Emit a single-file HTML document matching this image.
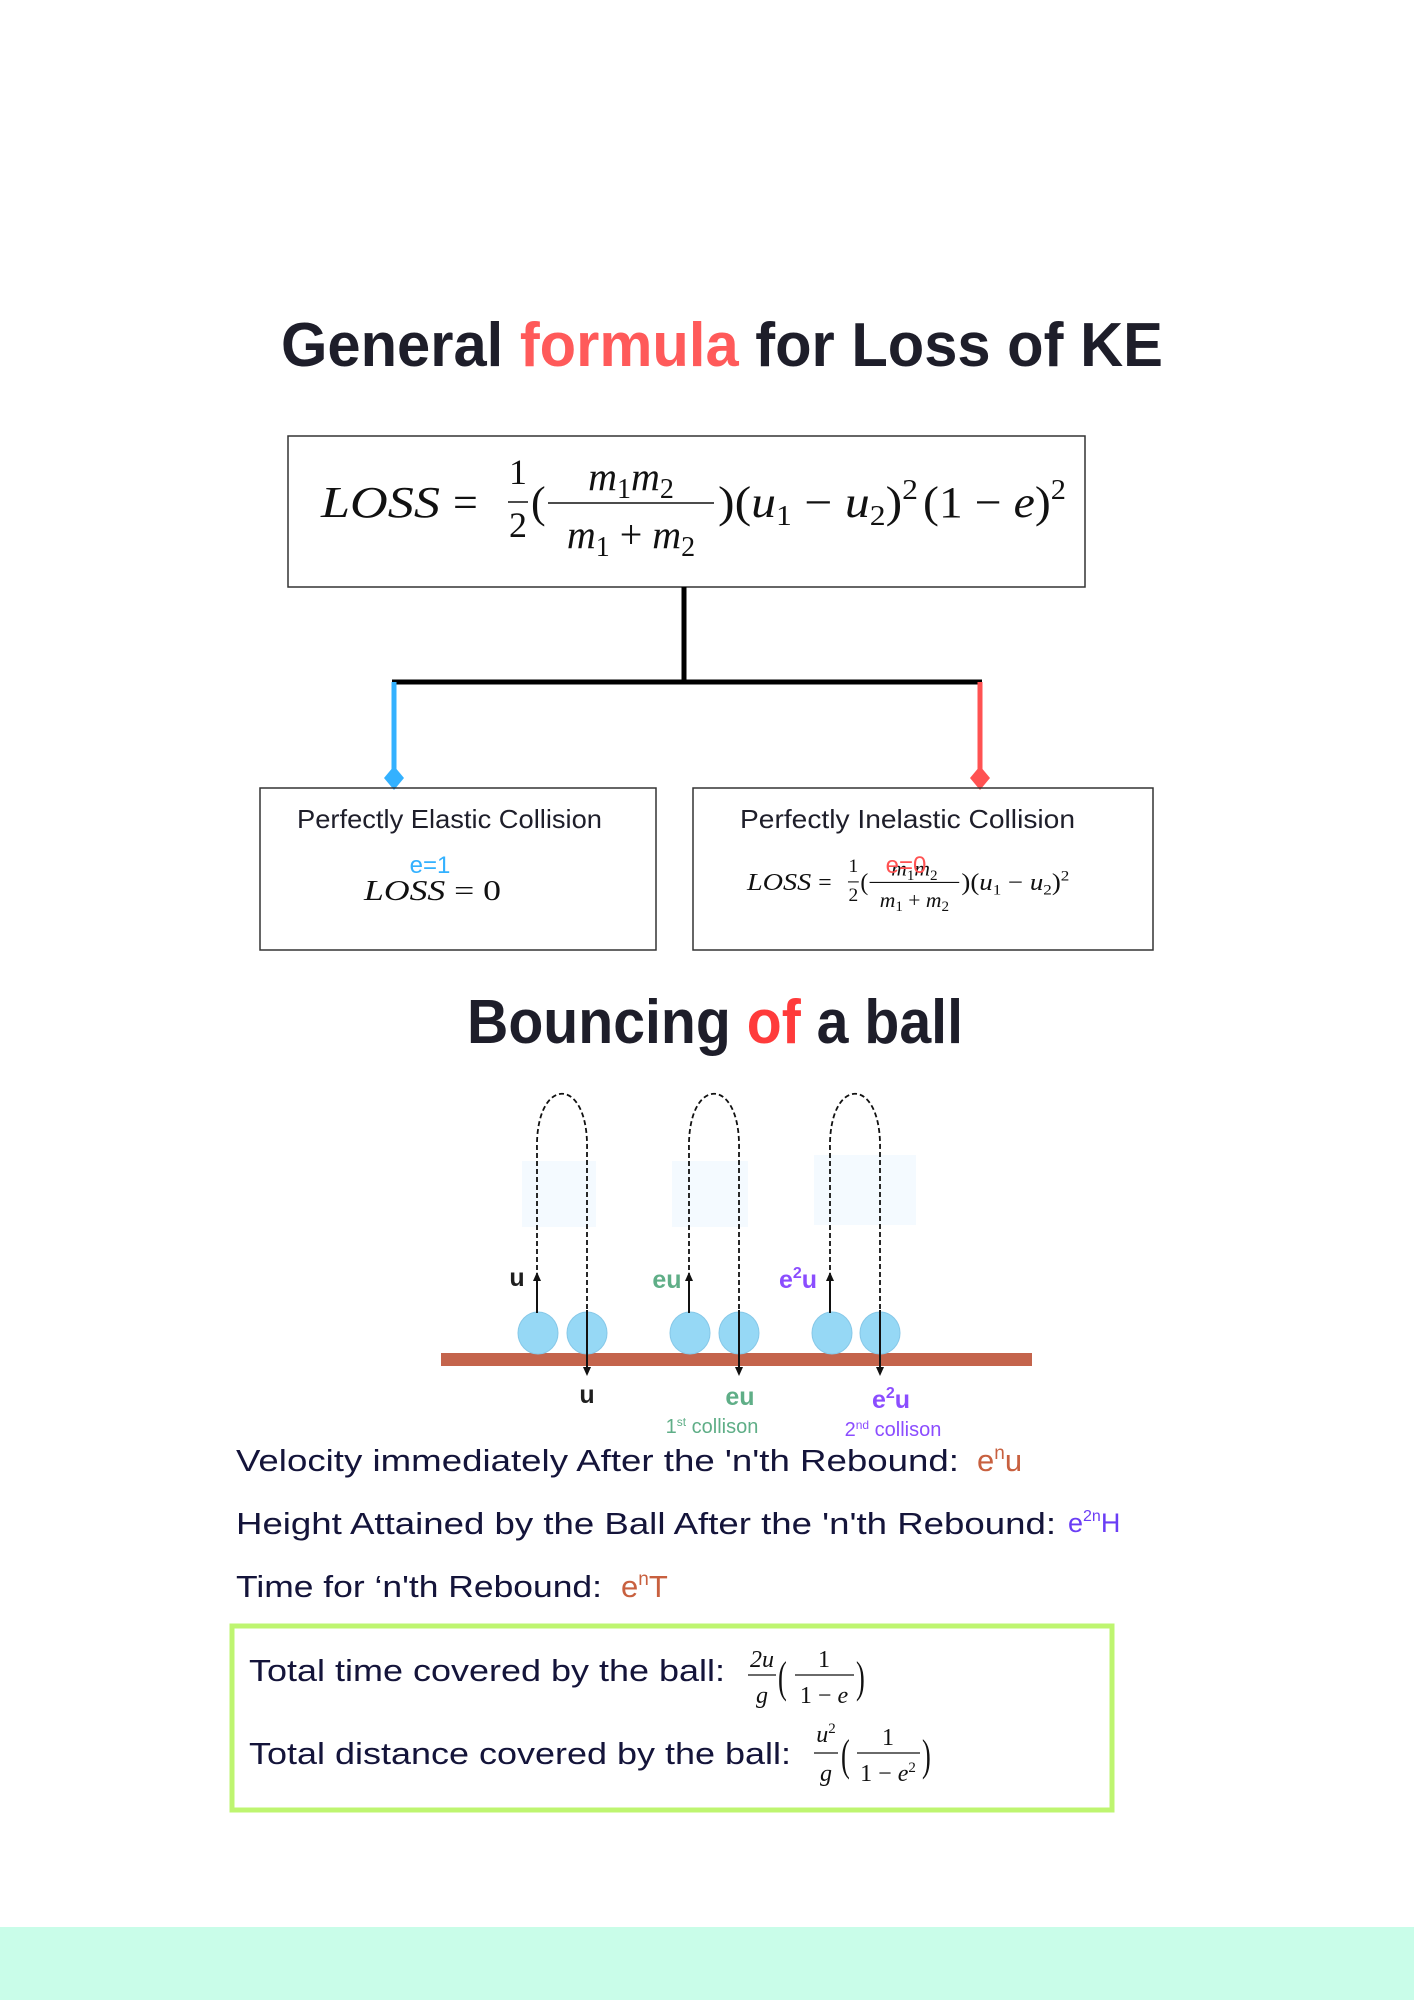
<!DOCTYPE html>
<html><head><meta charset="utf-8"><style>
html,body{margin:0;padding:0;background:#fff;}
svg{display:block;}
.h{font-family:"Liberation Sans",sans-serif;}
.m{font-family:"Liberation Serif",serif;font-style:italic;}
.r{font-family:"Liberation Serif",serif;}
.s{font-style:normal;}
</style></head><body>
<svg width="1414" height="2000" viewBox="0 0 1414 2000" xmlns="http://www.w3.org/2000/svg">
<rect x="0" y="1927" width="1414" height="73" fill="#c9fde9"/>

<text class="h" x="281" y="366" font-size="62" font-weight="bold" fill="#1e1e2a" textLength="882" lengthAdjust="spacingAndGlyphs">General <tspan fill="#ff5a5a">formula</tspan> for Loss of KE</text>

<rect x="288" y="436" width="797" height="151" fill="none" stroke="#333" stroke-width="1.5"/>
<g transform="translate(321,517)" fill="#111">
  <text class="m" x="0" y="0" font-size="44" textLength="119" lengthAdjust="spacingAndGlyphs">LOSS</text>
  <text class="r" x="132" y="0" font-size="44">=</text>
  <text class="r" x="197" y="-33" font-size="36" text-anchor="middle">1</text>
  <line x1="187" y1="-15" x2="207" y2="-15" stroke="#111" stroke-width="1.5"/>
  <text class="r" x="197" y="20" font-size="36" text-anchor="middle">2</text>
  <text class="r" x="210" y="0" font-size="44">(</text>
  <text class="m" x="310" y="-27" font-size="40" text-anchor="middle">m<tspan class="s" font-size="28" dy="8">1</tspan><tspan dy="-8">m</tspan><tspan class="s" font-size="28" dy="8">2</tspan></text>
  <line x1="227" y1="-14" x2="393" y2="-14" stroke="#111" stroke-width="1.5"/>
  <text class="m" x="310" y="31" font-size="40" text-anchor="middle">m<tspan class="s" font-size="28" dy="8">1</tspan><tspan class="s" dy="-8"> + </tspan><tspan>m</tspan><tspan class="s" font-size="28" dy="8">2</tspan></text>
  <text class="m" x="397" y="0" font-size="44" textLength="200" lengthAdjust="spacingAndGlyphs"><tspan class="s">)(</tspan>u<tspan class="s" font-size="28" dy="8">1</tspan><tspan class="s" dy="-8"> − </tspan>u<tspan class="s" font-size="28" dy="8">2</tspan><tspan class="s" dy="-8">)</tspan><tspan class="s" font-size="28" dy="-18">2</tspan></text>
  <text class="m" x="602" y="0" font-size="44" textLength="143" lengthAdjust="spacingAndGlyphs"><tspan class="s">(1 − </tspan>e<tspan class="s">)</tspan><tspan class="s" font-size="28" dy="-18">2</tspan></text>
</g>

<line x1="684" y1="587" x2="684" y2="684" stroke="#000" stroke-width="5"/>
<line x1="392" y1="682" x2="982" y2="682" stroke="#000" stroke-width="5"/>
<line x1="394" y1="682" x2="394" y2="776" stroke="#33b1ff" stroke-width="5"/>
<polygon points="394,766 404,778 394,790 384,778" fill="#33b1ff"/>
<line x1="980" y1="682" x2="980" y2="776" stroke="#ff5252" stroke-width="5"/>
<polygon points="980,766 990,778 980,790 970,778" fill="#ff5252"/>

<rect x="260" y="788" width="396" height="162" fill="none" stroke="#333" stroke-width="1.5"/>
<rect x="693" y="788" width="460" height="162" fill="none" stroke="#333" stroke-width="1.5"/>
<text class="h" x="297" y="828" font-size="26" fill="#1e1e2a" textLength="305" lengthAdjust="spacingAndGlyphs">Perfectly Elastic Collision</text>
<text class="h" x="740" y="828" font-size="26" fill="#1e1e2a" textLength="335" lengthAdjust="spacingAndGlyphs">Perfectly  Inelastic Collision</text>
<text class="h" x="430" y="873" font-size="24" fill="#33b1ff" text-anchor="middle">e=1</text>
<text class="m" x="364" y="900" font-size="28" fill="#111" textLength="137" lengthAdjust="spacingAndGlyphs">LOSS <tspan class="s">= 0</tspan></text>
<g transform="translate(747,890) scale(0.54)" fill="#111">
  <text class="m" x="0" y="0" font-size="44" textLength="119" lengthAdjust="spacingAndGlyphs">LOSS</text>
  <text class="r" x="132" y="0" font-size="44">=</text>
  <text class="r" x="197" y="-33" font-size="36" text-anchor="middle">1</text>
  <line x1="187" y1="-15" x2="207" y2="-15" stroke="#111" stroke-width="2"/>
  <text class="r" x="197" y="20" font-size="36" text-anchor="middle">2</text>
  <text class="r" x="210" y="0" font-size="44">(</text>
  <text class="m" x="310" y="-27" font-size="40" text-anchor="middle">m<tspan class="s" font-size="28" dy="8">1</tspan><tspan dy="-8">m</tspan><tspan class="s" font-size="28" dy="8">2</tspan></text>
  <line x1="227" y1="-14" x2="393" y2="-14" stroke="#111" stroke-width="2"/>
  <text class="m" x="310" y="31" font-size="40" text-anchor="middle">m<tspan class="s" font-size="28" dy="8">1</tspan><tspan class="s" dy="-8"> + </tspan><tspan>m</tspan><tspan class="s" font-size="28" dy="8">2</tspan></text>
  <text class="m" x="397" y="0" font-size="44" textLength="200" lengthAdjust="spacingAndGlyphs"><tspan class="s">)(</tspan>u<tspan class="s" font-size="28" dy="8">1</tspan><tspan class="s" dy="-8"> − </tspan>u<tspan class="s" font-size="28" dy="8">2</tspan><tspan class="s" dy="-8">)</tspan><tspan class="s" font-size="28" dy="-18">2</tspan></text>
</g>
<text class="h" x="906" y="873" font-size="24" fill="#ff5252" text-anchor="middle">e=0</text>

<text class="h" x="467" y="1043" font-size="62" font-weight="bold" fill="#1e1e2a" textLength="496" lengthAdjust="spacingAndGlyphs">Bouncing <tspan fill="#ff3b3b">of</tspan> a ball</text>

<rect x="522" y="1161" width="74" height="66" fill="#f4faff"/>
<rect x="672" y="1161" width="76" height="66" fill="#f4faff"/>
<rect x="814" y="1155" width="102" height="70" fill="#f4faff"/>

<rect x="441" y="1353" width="591" height="13" fill="#c4644c"/>

<g fill="#96d8f5" stroke="#86c8e8" stroke-width="1">
<ellipse cx="538" cy="1333" rx="20" ry="21"/>
<ellipse cx="587" cy="1333" rx="20" ry="21"/>
<ellipse cx="690" cy="1333" rx="20" ry="21"/>
<ellipse cx="739" cy="1333" rx="20" ry="21"/>
<ellipse cx="832" cy="1333" rx="20" ry="21"/>
<ellipse cx="880" cy="1333" rx="20" ry="21"/>
</g>

<g fill="none" stroke="#111" stroke-width="1.8" stroke-dasharray="5,3">
<path d="M537 1278 L537 1150 C535 1075 589 1075 587 1150 L587 1310"/>
<path d="M689 1278 L689 1150 C687 1075 741 1075 739 1150 L739 1310"/>
<path d="M830 1278 L830 1150 C828 1075 882 1075 880 1150 L880 1310"/>
</g>
<g stroke="#111" stroke-width="2">
<line x1="537" y1="1313" x2="537" y2="1280"/>
<line x1="689" y1="1313" x2="689" y2="1280"/>
<line x1="830" y1="1313" x2="830" y2="1280"/>
<line x1="587" y1="1310" x2="587" y2="1368"/>
<line x1="739" y1="1310" x2="739" y2="1368"/>
<line x1="880" y1="1310" x2="880" y2="1368"/>
</g>
<g fill="#111">
<polygon points="537,1272 533,1281 541,1281"/>
<polygon points="689,1272 685,1281 693,1281"/>
<polygon points="830,1272 826,1281 834,1281"/>
<polygon points="587,1376 583,1367 591,1367"/>
<polygon points="739,1376 735,1367 743,1367"/>
<polygon points="880,1376 876,1367 884,1367"/>
</g>

<text class="h" x="517" y="1286" font-size="25" font-weight="bold" fill="#1e1e1e" text-anchor="middle">u</text>
<text class="h" x="667" y="1288" font-size="25" font-weight="bold" fill="#5fae87" text-anchor="middle">eu</text>
<text class="h" x="798" y="1288" font-size="25" font-weight="bold" fill="#8b4dff" text-anchor="middle">e<tspan font-size="16" dy="-10">2</tspan><tspan dy="10">u</tspan></text>
<text class="h" x="587" y="1403" font-size="25" font-weight="bold" fill="#1e1e1e" text-anchor="middle">u</text>
<text class="h" x="740" y="1405" font-size="25" font-weight="bold" fill="#5fae87" text-anchor="middle">eu</text>
<text class="h" x="891" y="1408" font-size="25" font-weight="bold" fill="#8b4dff" text-anchor="middle">e<tspan font-size="16" dy="-10">2</tspan><tspan dy="10">u</tspan></text>
<text class="h" x="712" y="1433" font-size="20" fill="#5fae87" text-anchor="middle">1<tspan font-size="12" dy="-7">st</tspan><tspan dy="7"> collison</tspan></text>
<text class="h" x="893" y="1436" font-size="20" fill="#8b4dff" text-anchor="middle">2<tspan font-size="12" dy="-7">nd</tspan><tspan dy="7"> collison</tspan></text>

<text class="h" x="236" y="1471" font-size="31" fill="#14143a" textLength="723" lengthAdjust="spacingAndGlyphs">Velocity immediately After the 'n'th Rebound:</text>
<text class="h" x="977" y="1471" font-size="31" fill="#c8603f">e<tspan font-size="19" dy="-12">n</tspan><tspan dy="12">u</tspan></text>
<text class="h" x="236" y="1534" font-size="31" fill="#14143a" textLength="820" lengthAdjust="spacingAndGlyphs">Height Attained by the Ball After the 'n'th Rebound:</text>
<text class="h" x="1068" y="1532" font-size="27" fill="#6a3df5">e<tspan font-size="16" dy="-11">2n</tspan><tspan dy="11">H</tspan></text>
<text class="h" x="236" y="1597" font-size="31" fill="#14143a" textLength="366" lengthAdjust="spacingAndGlyphs">Time for ‘n'th Rebound:</text>
<text class="h" x="621" y="1597" font-size="31" fill="#c8603f">e<tspan font-size="19" dy="-12">n</tspan><tspan dy="12">T</tspan></text>

<rect x="232" y="1626" width="880" height="184" fill="none" stroke="#bef570" stroke-width="5"/>
<text class="h" x="249" y="1681" font-size="31" fill="#14143a" textLength="476" lengthAdjust="spacingAndGlyphs">Total time covered by the ball:</text>
<g fill="#111">
<text class="m" x="762" y="1667" font-size="24" text-anchor="middle">2u</text>
<line x1="748" y1="1675" x2="776" y2="1675" stroke="#111" stroke-width="1.3"/>
<text class="m" x="762" y="1703" font-size="24" text-anchor="middle">g</text>
<text class="r" x="778" y="1692" font-size="44" transform="translate(778,1692) scale(0.6,1) translate(-778,-1692)">(</text>
<text class="r" x="824" y="1667" font-size="24" text-anchor="middle">1</text>
<line x1="795" y1="1675" x2="854" y2="1675" stroke="#111" stroke-width="1.3"/>
<text class="r" x="824" y="1703" font-size="24" text-anchor="middle">1 − <tspan class="m">e</tspan></text>
<text class="r" x="856" y="1692" font-size="44" transform="translate(856,1692) scale(0.6,1) translate(-856,-1692)">)</text>
</g>
<text class="h" x="249" y="1764" font-size="31" fill="#14143a" textLength="542" lengthAdjust="spacingAndGlyphs">Total distance covered by the ball:</text>
<g fill="#111">
<text class="m" x="826" y="1742" font-size="24" text-anchor="middle">u<tspan class="s" font-size="15" dy="-9">2</tspan></text>
<line x1="814" y1="1753" x2="838" y2="1753" stroke="#111" stroke-width="1.3"/>
<text class="m" x="826" y="1781" font-size="24" text-anchor="middle">g</text>
<text class="r" x="841" y="1770" font-size="44" transform="translate(841,1770) scale(0.6,1) translate(-841,-1770)">(</text>
<text class="r" x="888" y="1745" font-size="24" text-anchor="middle">1</text>
<line x1="857" y1="1753" x2="920" y2="1753" stroke="#111" stroke-width="1.3"/>
<text class="r" x="888" y="1781" font-size="24" text-anchor="middle">1 − <tspan class="m">e</tspan><tspan font-size="15" dy="-9">2</tspan></text>
<text class="r" x="922" y="1770" font-size="44" transform="translate(922,1770) scale(0.6,1) translate(-922,-1770)">)</text>
</g>
</svg>
</body></html>
